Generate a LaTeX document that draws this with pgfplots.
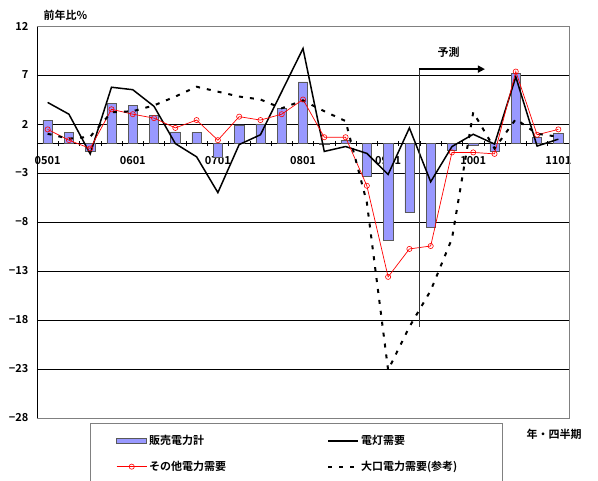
\documentclass[border=0pt]{standalone}
\usepackage{pgfplots}
\pgfplotsset{compat=1.18}
\usepackage{pgfplotstable}
\usepackage{fontspec}
\setmainfont{Noto Sans CJK JP}[BoldFont={Noto Sans CJK JP Bold}]
\usetikzlibrary{arrows.meta}
\definecolor{barfill}{HTML}{9999FF}

\pgfplotsset{
  lineswatch/.style={legend image code/.code={\draw[mark repeat=2,mark phase=2,##1]
    plot coordinates {(0pt,0pt) (15pt,0pt) (30pt,0pt)};}},
  barswatch/.style={legend image code/.code={\draw[##1]
    (0pt,-2.7pt) rectangle (30pt,2.7pt);}},
}

% quarter index, total sales, lighting, other power, large-lot power (y/y %)
\pgfplotstableread{
idx bar    light  other  large
0   2.4    4.2    1.45   1.0
1   1.15   3.0    0.35   0.5
2   -0.75  -1.05  -0.5   0.7
3   4.1    5.75   3.5    3.2
4   3.9    5.5    3.0    3.3
5   2.9    3.8    2.6    3.9
6   1.2    0.0    1.6    4.8
7   1.15   -1.35  2.4    5.8
8   -1.35  -5.0   0.35   5.3
9   1.9    -0.1   2.75   4.8
10  2.0    0.9    2.4    4.5
11  3.6    5.3    3.0    3.6
12  6.3    9.7    4.5    4.4
13  -0.1   -0.8   0.65   3.3
14  0.35   -0.3   0.65   2.3
15  -3.3   -1.0   -4.3   -6.0
16  -9.85  -3.15  -13.6  -23.1
17  -7.05  1.6    -10.75 -18.7
18  -8.5   -3.9   -10.45 -15.0
19  -0.65  -0.3   -0.9   -9.7
20  -0.2   0.95   -0.9   3.2
21  -0.8   -0.05  -1.05  -0.5
22  7.2    6.8    7.35   2.5
23  0.6    -0.25  0.9    1.0
24  1.05   0.45   1.45   0.7
}\datatable

\begin{document}
\begin{tikzpicture}[x=1pt,y=1pt]
\useasboundingbox (0,0) rectangle (598,481);
\begin{axis}[
  scale only axis, width=532pt, height=392pt,
  at={(37pt,63pt)}, anchor=south west,
  xmin=-0.5, xmax=24.5, ymin=-28, ymax=12,
  axis x line=middle, axis y line=left,
  axis line style={-, black, line width=0.8pt},
  xtick={0,4,...,24},
  xticklabels={0501,0601,0701,0801,0901,1001,1101},
  minor xtick={-0.5,0.5,...,24.5},
  major x tick style={draw=none},
  minor x tick style={black, line width=0.6pt},
  minor tick length=5pt,
  ytick={-28,-23,...,12},
  yticklabels={−28,−23,−18,−13,−8,−3,2,7,12},
  ytick style={draw=none},
  ymajorgrids, grid style={black, line width=0.6pt},
  ticklabel style={font=\bfseries\fontsize{11}{13}\selectfont},
  x tick label style={anchor=north, yshift=-7pt},
  y tick label style={anchor=east, xshift=-3pt},
  legend style={at={(0.0996,-0.0128)}, anchor=north west,
    draw=gray, line width=0.8pt,
    legend columns=2,
    font=\bfseries\fontsize{11}{13}\selectfont,
    inner xsep=26pt, inner ysep=10pt, row sep=11pt,
    nodes={text width=113pt, align=left},
    /tikz/every even column/.append style={column sep=63pt}},
  legend cell align=left,
  lineswatch,
  clip=false,
]
\addplot[ybar, bar width=9.3pt, bar shift=0pt, fill=barfill, draw=black!65,
  line width=0.5pt, barswatch]
  table[x=idx, y=bar] {\datatable};
\addlegendentry{販売電力計}
\addplot[black, line width=1.5pt, mark=none] table[x=idx, y=light] {\datatable};
\addlegendentry{電灯需要}
\addplot[red, line width=0.7pt, mark=o, mark size=2.6pt,
  mark options={solid, line width=0.6pt}] table[x=idx, y=other] {\datatable};
\addlegendentry{その他電力需要}
\addplot[black, line width=2pt, dash pattern=on 4pt off 7pt, mark=none]
  table[x=idx, y=large] {\datatable};
\addlegendentry{大口電力需要(参考)}

% plot-area frame
\draw[gray, line width=0.8pt] (rel axis cs:0,1) -- (rel axis cs:1,1)
  -- (rel axis cs:1,0) -- (rel axis cs:0,0);
% forecast marker
\draw[black!80, line width=0.6pt] (axis cs:17.45,7.6) -- (axis cs:17.45,-18.7);
\draw[-{Triangle[length=7pt,width=7pt]}, line width=1.5pt]
  (axis cs:17.45,7.6) -- (axis cs:20.55,7.6);
\node[font=\bfseries\fontsize{11}{13}\selectfont] at (axis cs:18.84,9.3) {予測};
\end{axis}
\node[anchor=west, font=\bfseries\fontsize{11}{13}\selectfont] at (40,466) {前年比\%};
\node[anchor=west, font=\bfseries\fontsize{11}{13}\selectfont] at (523,47) {年・四半期};
\end{tikzpicture}
\end{document}
